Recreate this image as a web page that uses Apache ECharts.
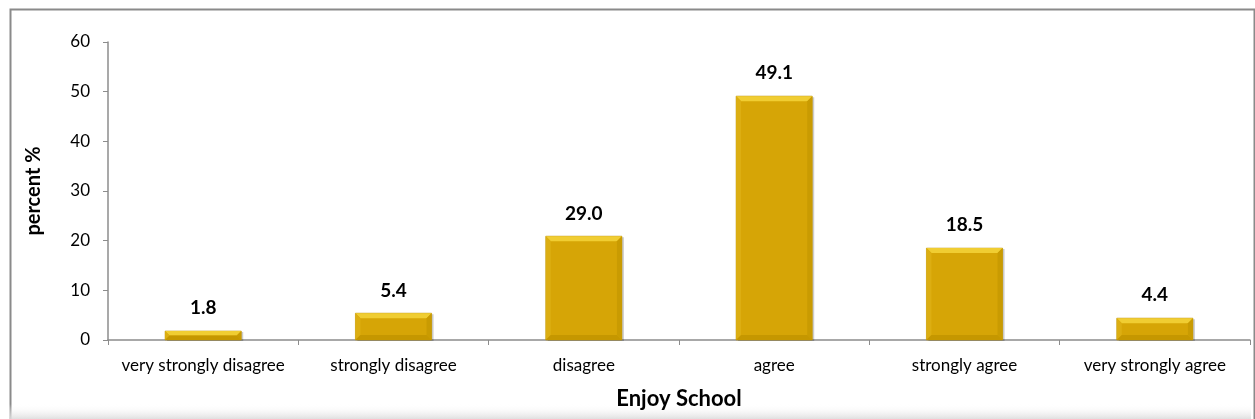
<!DOCTYPE html>
<html>
<head>
<meta charset="utf-8">
<script src="https://cdn.jsdelivr.net/npm/echarts@6/dist/echarts.min.js"></script>
<style>
html,body{margin:0;padding:0;background:#fff;}
#c{width:1255px;height:419px;}
</style>
</head>
<body>
<div id="c"></div>
<script>
const categories = ['very strongly disagree','strongly disagree','disagree','agree','strongly agree','very strongly agree'];
const barValues = [1.8, 5.4, 20.9, 49.1, 18.5, 4.4];
const labelTexts = ['1.8', '5.4', '29.0', '49.1', '18.5', '4.4'];
const yTicks = [0, 10, 20, 30, 40, 50, 60];

const FONT = 'Lato';
const chart = echarts.init(document.getElementById('c'));

function renderBar(params, api) {
  const idx = api.value(0);
  const v = api.value(1);
  const top = api.coord([idx, v]);
  const bot = api.coord([idx, 0]);
  const w = api.size([1, 0])[0] * 0.4;
  const x0 = top[0] - w / 2, x1 = top[0] + w / 2;
  const y0 = top[1], y1 = bot[1];
  const h = y1 - y0;
  const b = Math.min(5, h / 2);
  return {
    type: 'group',
    children: [
      {type:'rect', shape:{x:x0+2, y:y0+1, width:w, height:h}, style:{fill:'rgba(0,0,0,0.2)'}},
      {type:'rect', shape:{x:x0, y:y0, width:w, height:h}, style:{fill:'#d6a506', stroke:'#b8900a', lineWidth:0.6},
        textContent:{style:{text:labelTexts[params.dataIndex], fill:'#000', fontFamily:FONT, fontSize:19, fontWeight:'bold'}},
        textConfig:{position:'top', distance:13}},
      {type:'polygon', shape:{points:[[x0,y0],[x1,y0],[x1-b,y0+b],[x0+b,y0+b]]}, style:{fill:'#f0cd32'}},
      {type:'polygon', shape:{points:[[x0,y0],[x0+b,y0+b],[x0+b,y1-b],[x0,y1]]}, style:{fill:'#dcae12'}},
      {type:'polygon', shape:{points:[[x1,y0],[x1-b,y0+b],[x1-b,y1-b],[x1,y1]]}, style:{fill:'#c99b02'}},
      {type:'polygon', shape:{points:[[x0,y1],[x0+b,y1-b],[x1-b,y1-b],[x1,y1]]}, style:{fill:'#c59700'}}
    ]
  };
}

chart.setOption({
  animation: false,
  backgroundColor: '#ffffff',
  graphic: [
    {type:'rect', left:8, top:7, shape:{width:1244, height:430}, style:{fill:'none', stroke:'#8a8a8a', lineWidth:2}, z:-1},
    {type:'rect', left:9, top:404, shape:{width:1242, height:15}, style:{fill:new echarts.graphic.LinearGradient(0,0,0,1,[{offset:0,color:'rgba(255,255,255,0)'},{offset:1,color:'rgba(220,220,220,0.9)'}])}, z:-1}
  ],
  grid: {left:108, right:5, top:42, bottom:79},
  xAxis: {
    type:'category',
    data: categories,
    axisLine:{show:true, lineStyle:{color:'#8c8c8c', width:1.5}},
    axisTick:{show:true, length:5, lineStyle:{color:'#8c8c8c'}},
    axisLabel:{color:'#000', fontFamily:FONT, fontSize:17, margin:17, interval:0},
    name:'Enjoy School',
    nameLocation:'middle',
    nameGap:48,
    nameTextStyle:{color:'#000', fontFamily:FONT, fontSize:22, fontWeight:'bold'}
  },
  yAxis: {
    type:'value',
    min: yTicks[0], max: yTicks[yTicks.length-1], interval: 10,
    splitLine:{show:false},
    axisLine:{show:true, lineStyle:{color:'#8c8c8c', width:1.5}},
    axisTick:{show:true, length:5, lineStyle:{color:'#8c8c8c'}},
    axisLabel:{color:'#000', fontFamily:FONT, fontSize:17, margin:18},
    name:'percent %',
    nameLocation:'middle',
    nameGap:64,
    nameRotate:90,
    nameTextStyle:{color:'#000', fontFamily:FONT, fontSize:20, fontWeight:'bold'}
  },
  series: [{
    type:'custom',
    renderItem: renderBar,
    encode:{x:0, y:1},
    data: barValues.map((v, i) => [i, v])
  }]
});
</script>
</body>
</html>
